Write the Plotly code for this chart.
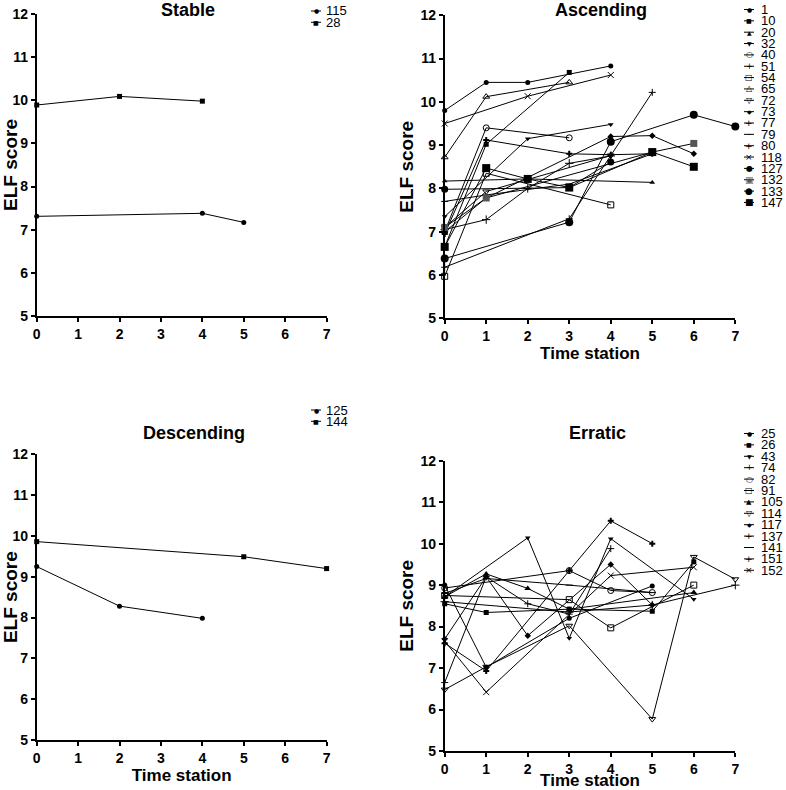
import plotly.graph_objects as go

FONT = "Arial, 'Liberation Sans', sans-serif"
W, H = 786, 790

x_ticks = [0, 1, 2, 3, 4, 5, 6, 7]
y_ticks = [5, 6, 7, 8, 9, 10, 11, 12]
panel_titles = ["Stable", "Ascending", "Descending", "Erratic"]

# ---------------- data ----------------
stable_ids = ["115", "28"]
stable_x = [[0, 4, 5], [0, 2, 4]]
stable_y = [[7.31, 7.38, 7.17], [9.89, 10.09, 9.98]]

asc_ids = ["1", "10", "20", "32", "40", "51", "54", "65", "72", "73", "77", "79",
           "80", "118", "127", "132", "133", "147"]
asc_x = [[0, 1, 2, 4], [0, 1, 3], [0, 2, 5], [0, 2, 4], [0, 1, 3], [0, 3, 5],
         [0, 1, 4], [0, 1, 3], [0, 1, 4], [0, 1, 4, 5, 6], [0, 1, 3, 4, 5], [0, 1, 3, 5],
         [0, 1, 2, 3, 4], [0, 2, 4], [0, 3, 4], [0, 1, 5, 6], [0, 3, 4, 6, 7], [0, 1, 2, 3, 5, 6]]
asc_y = [[9.80, 10.45, 10.45, 10.83], [6.65, 9.02, 10.68], [8.17, 8.22, 8.14],
         [7.35, 9.15, 9.48], [7.00, 9.40, 9.17], [6.18, 7.30, 10.22],
         [5.97, 8.35, 7.62], [8.72, 10.12, 10.45], [7.10, 7.93, 8.76],
         [7.00, 7.78, 9.20, 9.22, 8.80], [6.95, 9.12, 8.80, 8.78, 8.80], [7.70, 7.85, 8.10, 8.80],
         [7.05, 7.28, 8.00, 8.58, 8.75], [9.50, 10.13, 10.62], [7.98, 8.02, 8.61],
         [7.10, 7.78, 8.84, 9.04], [6.38, 7.22, 9.08, 9.70, 9.43],
         [6.65, 8.47, 8.22, 8.02, 8.84, 8.50]]

desc_ids = ["125", "144"]
desc_x = [[0, 2, 4], [0, 5, 7]]
desc_y = [[9.25, 8.28, 7.98], [9.86, 9.49, 9.20]]

err_ids = ["25", "26", "43", "74", "82", "91", "105", "114", "117", "137", "141", "151", "152"]
err_x = [[0, 1, 3, 5], [0, 1, 3, 5, 6], [0, 2, 3, 4, 6], [0, 1, 2, 3, 4], [0, 3, 4, 5],
         [0, 3, 4, 6], [0, 1, 2, 3, 6], [0, 1, 3, 5, 6, 7], [0, 1, 2, 4, 5],
         [0, 1, 3, 4, 5], [0, 1, 3, 5], [0, 3, 5, 7], [0, 1, 4, 6]]
err_y = [[9.00, 7.02, 8.20, 8.98], [8.55, 8.34, 8.42, 8.37, 9.56],
         [8.72, 10.14, 7.72, 10.12, 8.66], [6.65, 9.20, 8.55, 8.30, 9.88],
         [8.93, 9.35, 8.87, 8.82], [8.75, 8.65, 7.97, 9.00],
         [8.72, 9.27, 8.92, 8.42, 8.82], [6.48, 7.03, 8.02, 5.77, 9.68, 9.14],
         [7.70, 9.20, 7.78, 9.50, 8.52], [7.60, 6.93, 9.35, 10.55, 10.00],
         [8.80, 9.16, 9.00, 8.82], [8.60, 8.35, 8.52, 9.00], [7.65, 6.42, 9.23, 9.43]]

# ---------------- styles ----------------
STY = {
    "circle": ("●", 6), "square": ("■", 6), "triangle-up": ("▲", 6), "triangle-down": ("▼", 6),
    "circle-open": ("○", 7), "square-open": ("□", 7), "triangle-up-open": ("△", 7),
    "triangle-down-open": ("▽", 7), "diamond": ("◆", 6), "cross-thin": ("+", 8),
    "x-thin": ("×", 8), "line-ew": ("–", 8), "cross": ("+", 9), "square-dot": ("▣", 7),
}
stable_sty = [("circle", 5), ("square", 5)]
desc_sty = [("circle", 5), ("square", 5)]
asc_sty = [("circle", 5), ("square", 5), ("triangle-up", 5), ("triangle-down", 5),
           ("circle-open", 6), ("cross-thin", 5), ("square-open", 6), ("triangle-up-open", 6),
           ("triangle-down-open", 6), ("diamond", 5), ("cross", 5), ("line-ew", 5),
           ("cross-thin", 6), ("x-thin", 6), ("circle", 7), ("square-dot", 7),
           ("circle", 8), ("square", 8)]
err_sty = [("circle", 5), ("square", 5), ("triangle-down", 5), ("cross-thin", 5),
           ("circle-open", 6), ("square-open", 6), ("triangle-up", 6), ("triangle-down-open", 6),
           ("diamond", 5), ("cross", 5), ("line-ew", 5), ("cross-thin", 6), ("x-thin", 6)]

# panel geometry (pixels): x of x=0, x of x=7, y of y=12, y of y=5
panels = [
    (36.7, 326.6, 14.0, 316.0),
    (444.7, 735.3, 15.3, 318.3),
    (36.7, 326.6, 454.3, 740.0),
    (444.7, 735.3, 460.7, 751.0),
]
title_pos = [(188, 10), (601, 10), (194, 433), (597, 433)]
show_xtitle = [False, True, True, True]

# legend geometry: key x0, key x1, text x, first row y, row step
legends = [
    (311, 321, 324, 11, 11.3),
    (744, 754, 759, 9.5, 11.35),
    (311, 321, 324, 410, 11.3),
    (744, 754, 759, 433.5, 11.4),
]

groups = [
    (stable_ids, stable_x, stable_y, stable_sty),
    (asc_ids, asc_x, asc_y, asc_sty),
    (desc_ids, desc_x, desc_y, desc_sty),
    (err_ids, err_x, err_y, err_sty),
]

fig = go.Figure()
shapes = []
annotations = []


def xp(px):
    return px / W


def yp(py):
    return 1 - py / H


for p, (ids, xs, ys, sty) in enumerate(groups):
    ax = "" if p == 0 else str(p + 1)
    for sid, xv, yv, (sym, sz) in zip(ids, xs, ys, sty):
        color = "black"
        psym = sym
        if sym == "square-dot":
            psym = "square"
            color = "#555555"
        lw = 1 if ("thin" in sym or sym == "line-ew" or "open" in sym) else 0
        fig.add_trace(go.Scatter(
            x=xv, y=yv, mode="lines+markers", name=sid, showlegend=False,
            xaxis="x" + ax, yaxis="y" + ax, cliponaxis=False,
            line=dict(color="black", width=1),
            marker=dict(symbol=psym, size=sz, color=color,
                        line=dict(color="black", width=lw)),
        ))
    x0, x1, y0, y1 = panels[p]
    fig.update_layout(**{
        "xaxis" + ax: dict(
            domain=[xp(x0), xp(x1)], range=[0, 7], anchor="y" + ax, automargin=False,
            tickvals=x_ticks, ticktext=[str(t) for t in x_ticks],
            showline=True, linecolor="black", linewidth=1.5, ticks="outside",
            ticklen=4, tickwidth=1.5, tickcolor="black", showgrid=False, zeroline=False,
            tickfont=dict(family=FONT, size=14, color="black", weight="bold"),
            title=dict(text="Time station" if show_xtitle[p] else "", standoff=3,
                       font=dict(family=FONT, size=17, color="black", weight="bold")),
        ),
        "yaxis" + ax: dict(
            domain=[yp(y1), yp(y0)], range=[5, 12], anchor="x" + ax, automargin=False,
            tickvals=y_ticks, ticktext=[str(t) for t in y_ticks],
            showline=True, linecolor="black", linewidth=1.5, ticks="outside",
            ticklen=4, tickwidth=1.5, tickcolor="black", showgrid=False, zeroline=False,
            tickfont=dict(family=FONT, size=14, color="black", weight="bold"),
            title=dict(text="ELF score", standoff=2,
                       font=dict(family=FONT, size=19, color="black", weight="bold")),
        ),
    })
    tx_c, ty_c = title_pos[p]
    annotations.append(dict(
        text="<b>%s</b>" % panel_titles[p], x=xp(tx_c), y=yp(ty_c),
        xref="paper", yref="paper", xanchor="center", yanchor="middle", showarrow=False,
        font=dict(family=FONT, size=18, color="black"),
    ))
    # compact legend drawn with shapes + text
    kx0, kx1, tx, ry, step = legends[p]
    for i, (sid, (sym, sz)) in enumerate(zip(ids, sty)):
        cy = ry + i * step
        shapes.append(dict(type="line", xref="paper", yref="paper",
                           x0=xp(kx0), x1=xp(kx1), y0=yp(cy), y1=yp(cy),
                           line=dict(color="black", width=1)))
        glyph, gsz = STY[sym]
        gsz = gsz + (sz - 5)
        annotations.append(dict(
            text=glyph, x=xp((kx0 + kx1) / 2), y=yp(cy), xref="paper", yref="paper",
            xanchor="center", yanchor="middle", showarrow=False,
            font=dict(family="DejaVu Sans", size=gsz,
                      color="#555555" if sym == "square-dot" else "black"),
        ))
        annotations.append(dict(
            text=sid, x=xp(tx), y=yp(cy), xref="paper", yref="paper",
            xanchor="left", yanchor="middle", showarrow=False,
            font=dict(family=FONT, size=13, color="black"),
        ))

fig.update_layout(
    template="none",
    width=W, height=H, autosize=False,
    margin=dict(l=0, r=0, t=0, b=0, pad=0),
    paper_bgcolor="white", plot_bgcolor="white",
    showlegend=False, shapes=shapes, annotations=annotations,
    font=dict(family=FONT, color="black"),
)

fig.write_html("out.html", config={"displayModeBar": False},
               post_script="document.body.style.margin='0';")
